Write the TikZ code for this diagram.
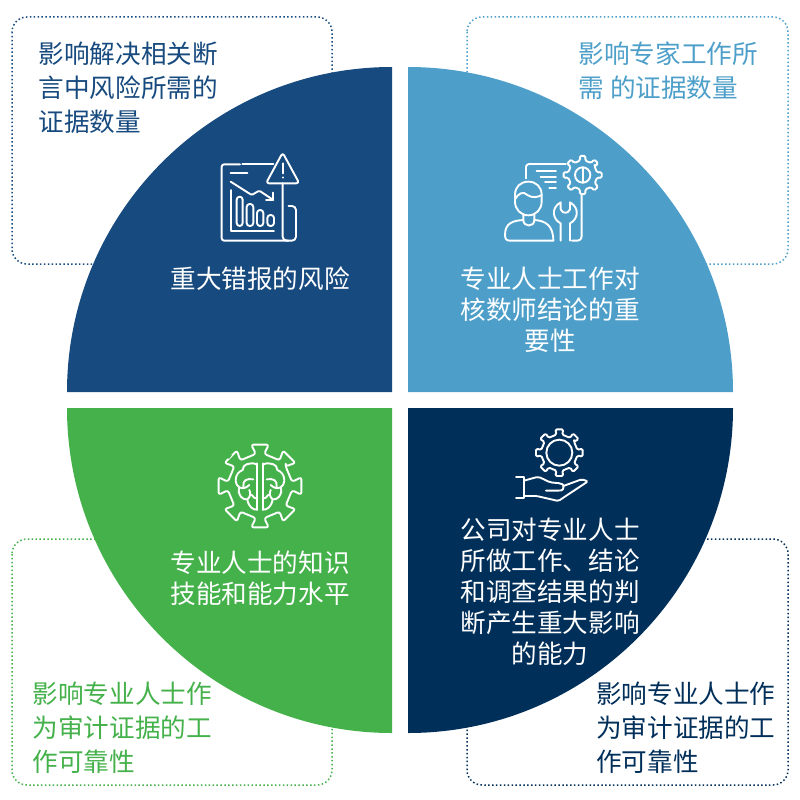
\documentclass[tikz,border=0pt]{standalone}
\usepackage{fontspec}
\setmainfont{Noto Sans CJK SC}
\definecolor{qblue}{HTML}{174A7E}
\definecolor{qlight}{HTML}{4D9FCA}
\definecolor{qgreen}{HTML}{45B14B}
\definecolor{qnavy}{HTML}{002F5A}
\tikzset{
  dotbox/.style={line width=1.5pt,dash pattern=on 1.5pt off 2.4pt,rounded corners=15pt},
  quadlabel/.style={text=white,align=center,font=\fontsize{25.6}{31}\selectfont,inner sep=0pt},
  sidelabel/.style={anchor=north west,align=left,font=\fontsize{25.6}{34}\selectfont,inner sep=0pt},
  iconline/.style={draw=white,line width=1.9pt,line cap=round,line join=round},
  iconscope/.style={x=0.3333pt,y=-0.3333pt}
}
% #1 centre, #2 outer radius, #3 inner radius, #4 tooth half angle outer, #5 half angle inner, #6 corners
\newcommand{\gearshape}[6]{%
  \draw[iconline,shift={#1},rounded corners=#6] (-22.5-#5:#3)
    \foreach \ga in {0,45,...,315}{ -- (\ga-22.5+#5:#3) -- (\ga-#4:#2) -- (\ga+#4:#2) -- (\ga+22.5-#5:#3) } -- cycle;%
}
\begin{document}
\begin{tikzpicture}[x=1pt,y=-1pt]
\useasboundingbox (0,0) rectangle (800,800);
\fill[white] (0,0) rectangle (800,800);
% dotted boxes
\draw[dotbox,draw=qblue] (12,17) rectangle (332,264);
\draw[dotbox,draw=qlight] (467,17) rectangle (788,264);
\draw[dotbox,draw=qgreen] (12,539) rectangle (332,785);
\draw[dotbox,draw=qnavy] (467,539) rectangle (788,785);
% quadrants
\fill[qblue] (392,392) -- (67,392) arc[start angle=180,end angle=270,radius=325] -- cycle;
\fill[qlight] (408,392) -- (408,67) arc[start angle=270,end angle=360,radius=325] -- cycle;
\fill[qgreen] (392,408) -- (392,733) arc[start angle=90,end angle=180,radius=325] -- cycle;
\fill[qnavy] (408,408) -- (733,408) arc[start angle=0,end angle=90,radius=325] -- cycle;
% quadrant labels
\node[quadlabel] (q1) at (260,279) {重大错报的风险};
\node[quadlabel] (q2) at (550,309.5) {专业人士工作对\\核数师结论的重\\要性};
\node[quadlabel] (q3) at (260,578.5) {专业人士的知识\\技能和能力水平};
\node[quadlabel] (q4) at (550,592) {公司对专业人士\\所做工作、结论\\和调查结果的判\\断产生重大影响\\的能力};
% side labels
\node[sidelabel,text=qblue] (s1) at (38.5,42) {影响解决相关断\\言中风险所需的\\证据数量};
\node[sidelabel,text=qlight] (s2) at (578.5,42) {影响专家工作所\\需 的证据数量};
\node[sidelabel,text=qgreen] (s3) at (32.5,682) {影响专业人士作\\为审计证据的工\\作可靠性};
\node[sidelabel,text=qnavy] (s4) at (596,682) {影响专业人士作\\为审计证据的工\\作可靠性};
% icon 1: risk
\begin{scope}[shift={(190,130)},iconscope]
  \draw[iconline,rounded corners=2.5pt] (150,103) -- (95,103) -- (95,332) -- (295,332);
  \draw[iconline] (157,103) -- (250,103);
  \draw[iconline,rounded corners=3pt] (278,68) -- (328,160) -- (228,160) -- cycle;
  \draw[iconline] (278,100) -- (278,130) (278,142) -- (278,143);
  \draw[iconline,rounded corners=4pt] (278,160) -- (278,332) -- (318,332) -- (318,228) -- (296,228);
  \draw[iconline] (122,128) -- (172,128);
  \draw[iconline] (122,180) -- (122,302) -- (252,302);
  \draw[iconline,rounded corners=1.2pt] (122,155) -- (185,195) -- (208,182) -- (250,210);
  \draw[iconline] (228,210) -- (250,210) -- (250,188);
  \draw[iconline,rounded corners=3pt] (140,200) rectangle (158,288);
  \draw[iconline,rounded corners=3pt] (170,222) rectangle (190,288);
  \draw[iconline,rounded corners=3pt] (201,240) rectangle (220,288);
  \draw[iconline,rounded corners=3pt] (232,255) rectangle (252,288);
\end{scope}
% icon 2: expert
\begin{scope}[shift={(490,140)},iconscope]
  \draw[iconline,rounded corners=3pt] (108,115) -- (108,72) -- (228,72);
  \gearshape{(278,105)}{58}{44}{9}{13}{1.5pt}
  \draw[iconline] (278,105) circle[radius=23];
  \draw[iconline] (278,82) -- (278,128);
  \draw[iconline,rounded corners=4pt] (275,165) -- (275,302) -- (246,302);
  \draw[iconline] (140,93) -- (198,93) (152,110) -- (198,110) (165,127) -- (198,127) (178,144) -- (198,144);
  \draw[iconline] (75,165) .. controls (75,140) and (92,125) .. (115,125) .. controls (138,125) and (155,140) .. (155,165) -- (155,185) .. controls (155,208) and (138,226) .. (115,226) .. controls (92,226) and (75,208) .. (75,185) -- cycle;
  \draw[iconline] (75,178) .. controls (85,160) and (100,152) .. (112,165) .. controls (125,175) and (145,172) .. (155,165);
  \draw[iconline] (100,222) -- (100,240) .. controls (100,262) and (133,262) .. (133,240) -- (133,222);
  \draw[iconline] (100,240) .. controls (70,242) and (45,248) .. (45,285) .. controls (45,298) and (50,302) .. (60,302) -- (190,302);
  \draw[iconline] (133,240) .. controls (165,242) and (190,255) .. (190,302);
  \draw[iconline] (212,302) -- (212,250) .. controls (190,240) and (180,205) .. (212,187) -- (212,208) .. controls (218,222) and (234,222) .. (240,208) -- (240,187) .. controls (272,205) and (262,240) .. (240,250) -- (240,302);
\end{scope}
% icon 3: brain gear
\begin{scope}[shift={(200,430)},iconscope]
  \gearshape{(180,168)}{127}{97}{12}{15}{2.5pt}
  \draw[qgreen,line width=3pt] (83,84) -- (92,73);
  \draw[iconline] (172,100) -- (172,240) (188,100) -- (188,240);
  \draw[iconline] (172,105) .. controls (155,92) and (125,105) .. (128,120) .. controls (105,128) and (100,160) .. (118,172) .. controls (110,195) and (130,212) .. (142,208) .. controls (145,230) and (160,242) .. (172,238);
  \draw[iconline] (188,105) .. controls (205,92) and (235,105) .. (232,120) .. controls (255,128) and (260,160) .. (242,172) .. controls (250,195) and (230,212) .. (218,208) .. controls (215,230) and (200,242) .. (188,238);
  \draw[iconline] (130,170) .. controls (128,150) and (140,145) .. (160,148);
  \draw[iconline] (118,172) .. controls (130,178) and (140,172) .. (148,165) (148,180) .. controls (152,190) and (152,200) .. (142,208) (172,205) .. controls (162,205) and (158,200) .. (156,195);
  \draw[iconline] (230,170) .. controls (232,150) and (220,145) .. (200,148);
  \draw[iconline] (242,172) .. controls (230,178) and (220,172) .. (212,165) (212,180) .. controls (208,190) and (208,200) .. (218,208) (188,205) .. controls (198,205) and (202,200) .. (204,195);
\end{scope}
% icon 4: hand and gear
\begin{scope}[shift={(500,420)},iconscope]
  \gearshape{(178,98)}{71}{55}{10}{14}{1.5pt}
  \draw[iconline] (178,98) circle[radius=39];
  \draw[iconline] (48,172) -- (72,172) -- (72,235) -- (48,235);
  \draw[iconline,rounded corners=2pt] (72,182) -- (115,170) -- (150,187) -- (182,190) .. controls (192,195) and (192,210) .. (178,212) -- (138,212);
  \draw[iconline,rounded corners=1.5pt] (190,198) -- (245,178) -- (264,184) -- (175,243) -- (110,228) -- (72,228);
\end{scope}
\end{tikzpicture}
\end{document}
